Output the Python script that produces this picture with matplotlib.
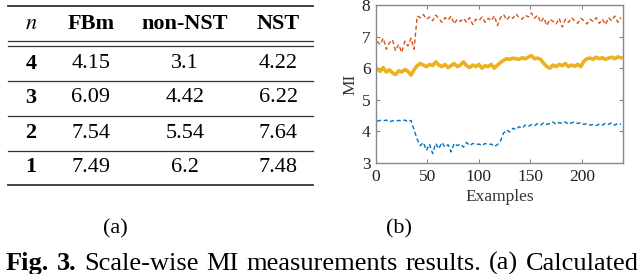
import matplotlib

matplotlib.use("Agg")
import matplotlib.pyplot as plt
import numpy as np
from matplotlib.lines import Line2D

plt.rcParams["font.family"] = ["Liberation Serif", "DejaVu Serif"]
plt.rcParams["mathtext.fontset"] = "stix"

# ---------------------------------------------------------------
# (a) table data
# ---------------------------------------------------------------
col_headers = ["$n$", "FBm", "non-NST", "NST"]
scales = ["4", "3", "2", "1"]
fbm = ["4.15", "6.09", "7.54", "7.49"]
non_nst = ["3.1", "4.42", "5.54", "6.2"]
nst = ["4.22", "6.22", "7.64", "7.48"]

# ---------------------------------------------------------------
# (b) MI per example (every 3rd example)
# ---------------------------------------------------------------
examples = np.arange(1, 241, 3)
mi_orange = [
    6.85, 6.75, 6.95, 6.6, 6.8, 6.9, 6.55, 6.75, 6.5, 6.85, 6.7, 6.95, 6.6,
    7.65,
    7.6, 7.7, 7.55, 7.62, 7.5, 7.68, 7.58, 7.45, 7.6, 7.52, 7.65, 7.4, 7.55,
    7.48, 7.58, 7.45, 7.6, 7.38, 7.55, 7.5, 7.62, 7.45, 7.58, 7.5, 7.66, 7.35,
    7.6, 7.7, 7.52, 7.65, 7.58, 7.72, 7.6, 7.55, 7.68, 7.62, 7.75, 7.58, 7.68,
    7.45, 7.6, 7.35, 7.55, 7.48, 7.4, 7.58, 7.3, 7.55, 7.45, 7.6, 7.5, 7.42,
    7.58, 7.5, 7.4, 7.55, 7.48, 7.6, 7.42, 7.55, 7.38, 7.6, 7.5, 7.65, 7.45,
    7.6,
]
mi_yellow = [
    5.98, 5.9, 6.02, 5.88, 5.95, 5.85, 5.8, 5.92, 5.88, 5.96, 5.9, 5.78, 5.95,
    6.08,
    6.15, 6.1, 6.05, 6.12, 6.08, 6.2, 6.1, 6.05, 6.12, 6.02, 6.08, 6.15, 6.05,
    6.1, 6.2, 6.08, 6.02, 6.1, 6.05, 6.12, 6.0, 6.08, 6.05, 6.12, 6.0, 6.1,
    6.18, 6.25, 6.3, 6.28, 6.32, 6.3, 6.28, 6.33, 6.3, 6.35, 6.4, 6.3, 6.32, 6.28,
    6.15, 6.05, 6.0, 6.1, 6.05, 6.12, 6.08, 6.15, 6.05, 6.1, 6.06, 6.12, 6.05,
    6.22, 6.3, 6.32, 6.28, 6.35, 6.3, 6.33, 6.28, 6.32, 6.35, 6.3, 6.36, 6.33,
]
mi_blue = [
    4.32, 4.35, 4.33, 4.36, 4.3, 4.34, 4.32, 4.35, 4.33, 4.36, 4.3, 4.35,
    4.05, 3.75,
    3.55, 3.65, 3.4, 3.6, 3.3, 3.62, 3.45, 3.65, 3.5, 3.58, 3.35, 3.62, 3.55,
    3.6, 3.5, 3.65, 3.55, 3.62, 3.58, 3.6, 3.55, 3.62, 3.58, 3.6, 3.52, 3.58,
    3.7, 3.95, 4.05, 3.98, 4.1, 4.05, 4.15, 4.1, 4.2, 4.15, 4.22, 4.18, 4.25, 4.2,
    4.28, 4.22, 4.25, 4.3, 4.22, 4.28, 4.25, 4.3, 4.22, 4.27, 4.3, 4.25, 4.28,
    4.22, 4.25, 4.2, 4.22, 4.18, 4.24, 4.2, 4.26, 4.22, 4.28, 4.2, 4.25, 4.22,
]

caption_words = ["Fig.", "3.", "Scale-wise", "MI", "measurements", "results.",
                 "(a)", "Calculated"]
caption_bold = 2

W, H = 640, 274
fig = plt.figure(figsize=(W / 100, H / 100), dpi=100)


def fx(px):
    return px / W


def fy(py):
    return 1 - py / H


# ---------------------------------------------------------------
# table (a)
# ---------------------------------------------------------------
col_x = [31, 91, 185, 278]
row_y = [64, 98, 133, 167]
tsize = 16
for x, h in zip(col_x, col_headers):
    fig.text(fx(x), fy(24), h, ha="center", va="center", fontsize=tsize,
             fontweight="bold")
for i, y in enumerate(row_y):
    fig.text(fx(col_x[0]), fy(y), scales[i], ha="center", va="center",
             fontsize=tsize, fontweight="bold")
    for x, col in zip(col_x[1:], [fbm, non_nst, nst]):
        fig.text(fx(x), fy(y), col[i], ha="center", va="center", fontsize=tsize)

rules = [(6, 1.3), (41, 0.9), (46, 0.9), (81, 0.9), (116, 0.9), (151, 0.9), (185, 1.3)]
for y, lw in rules:
    fig.add_artist(Line2D([fx(8), fx(313)], [fy(y), fy(y)], color="#333333",
                          linewidth=lw))

# ---------------------------------------------------------------
# plot (b)
# ---------------------------------------------------------------
ax = fig.add_axes([fx(376), fy(163), fx(623) - fx(376), fy(5) - fy(163)])
ax.plot(examples, mi_orange, color="#D95319", linestyle=(0, (3, 2)), linewidth=1.0)
ax.plot(examples, mi_yellow, color="#EDB120", linestyle="-", linewidth=2.6)
ax.plot(examples, mi_blue, color="#0072BD", linestyle=(0, (3, 2)), linewidth=1.0)
ax.set_xlim(0, 240)
ax.set_ylim(3, 8)
ax.set_xticks([0, 50, 100, 150, 200])
ax.set_yticks([3, 4, 5, 6, 7, 8])
ax.tick_params(direction="in", length=3, width=0.6, colors="#666666",
               labelcolor="#222222", labelsize=12.5, top=True, right=True, pad=4)
for s in ax.spines.values():
    s.set_color("#888888")
    s.set_linewidth(1.0)
ax.set_xlabel("Examples", fontsize=12.5, color="#333333", labelpad=3)
ax.set_ylabel("MI", fontsize=12.5, color="#333333", labelpad=2)

# ---------------------------------------------------------------
# captions
# ---------------------------------------------------------------
fig.text(fx(115), fy(229), "(a)", ha="center", va="center", fontsize=16)
fig.text(fx(399), fy(229), "(b)", ha="center", va="center", fontsize=16)

# justified caption line, cut off at the bottom like the original
renderer = fig.canvas.get_renderer()
cap_size = 19
start, end = 6, 639
texts = []
for k, w in enumerate(caption_words):
    t = fig.text(0, fy(270), w, ha="left", va="baseline", fontsize=cap_size,
                 fontweight="bold" if k < caption_bold else "normal")
    texts.append(t)
widths = [t.get_window_extent(renderer).width for t in texts]
gap = (end - start - sum(widths)) / (len(texts) - 1)
x = start
for t, w in zip(texts, widths):
    t.set_x(fx(x))
    x += w + gap

fig.savefig("out.png", dpi=100)
